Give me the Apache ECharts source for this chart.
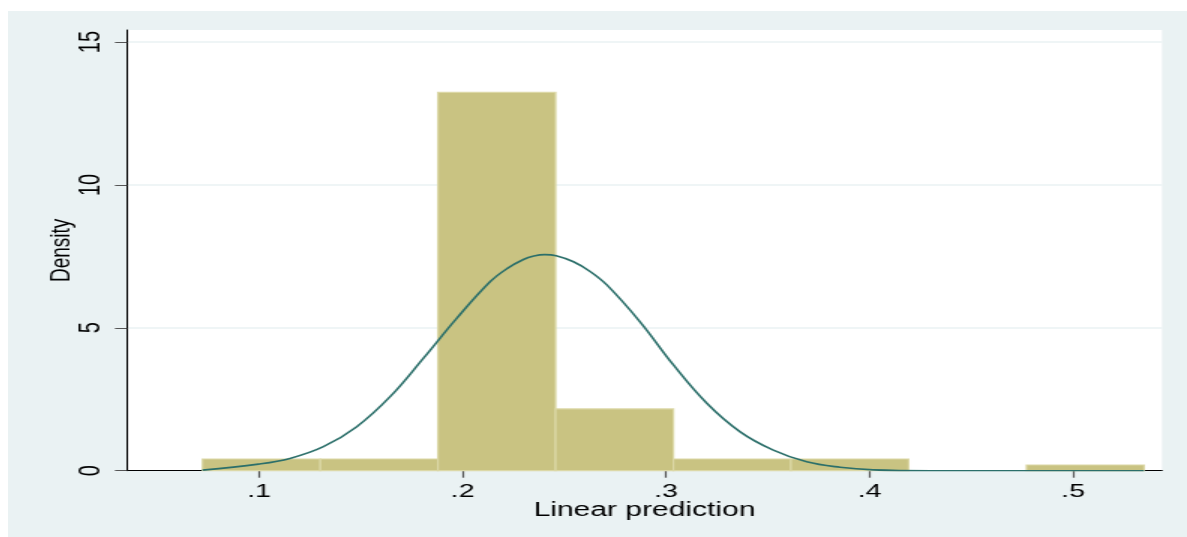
<!DOCTYPE html>
<html>
<head>
<meta charset="utf-8">
<script src="https://cdn.jsdelivr.net/npm/echarts@6/dist/echarts.min.js"></script>
<style>
  html, body { margin: 0; padding: 0; background: #ffffff; width: 1187px; height: 537px; overflow: hidden; }
  #c { position: absolute; left: 8px; top: 11px; width: 786px; height: 526px; transform: scaleX(1.5); transform-origin: 0 0; }
</style>
</head>
<body>
<div id="c"></div>
<script>
// Histogram bin edges (Linear prediction) and densities
const binEdges = [0.0722, 0.1301, 0.1879, 0.2457, 0.3036, 0.3614, 0.4192, 0.4771, 0.5349];
const binDensity = [0.41, 0.41, 13.24, 2.16, 0.41, 0.41, 0, 0.20];

// Overlaid normal density curve
const curveX = [0.0722, 0.0997, 0.1152, 0.1316, 0.1480, 0.1644, 0.1807, 0.1971, 0.2135, 0.2220, 0.2299, 0.2350, 0.2404,
                0.2460, 0.2545, 0.2625, 0.2709, 0.2872, 0.3036, 0.3200, 0.3364, 0.3527, 0.3691, 0.3855, 0.4019, 0.4300, 0.4700, 0.5349];
const curveY = [0.02, 0.23, 0.43, 0.84, 1.54, 2.59, 3.93, 5.33, 6.61, 7.08, 7.39, 7.51, 7.56,
                7.52, 7.31, 6.98, 6.50, 5.21, 3.70, 2.36, 1.36, 0.72, 0.31, 0.12, 0.03, 0.00, 0.00, 0.00];

// Axis ticks
const xTicks = [0.1, 0.2, 0.3, 0.4, 0.5];
const yTicks = [0, 5, 10, 15];

const barData = [];
for (let i = 0; i < binDensity.length; i++) {
  if (binDensity[i] > 0) barData.push([binEdges[i], binEdges[i + 1], binDensity[i]]);
}
const curveData = curveX.map((x, i) => [x, curveY[i]]);

const chart = echarts.init(document.getElementById('c'));
const font = '"Liberation Sans", Arial, sans-serif';
chart.setOption({
  backgroundColor: '#eaf2f3',
  animation: false,
  grid: { left: 79.33, right: 16.67, top: 19, bottom: 66.3, show: true, backgroundColor: '#ffffff', borderWidth: 0 },
  xAxis: {
    type: 'value', min: 0.0351, max: 0.5437,
    name: 'Linear prediction', nameLocation: 'middle', nameGap: 30, nameMoveOverlap: false,
    nameTextStyle: { fontFamily: font, fontSize: 20, color: '#000' },
    axisLine: { show: true, onZero: false, lineStyle: { color: '#000', width: 1 } },
    axisTick: { show: true, length: 7, customValues: xTicks, lineStyle: { color: '#555', width: 1.2 } },
    axisLabel: { customValues: xTicks, margin: 12, fontFamily: font, fontSize: 19, color: '#000',
      formatter: v => v.toFixed(1).replace(/^0/, '') },
    splitLine: { show: false }
  },
  yAxis: {
    type: 'value', min: 0, max: 15.42,
    name: 'Density', nameLocation: 'middle', nameGap: 34, nameRotate: 90, nameMoveOverlap: false,
    nameTextStyle: { fontFamily: font, fontSize: 19, color: '#000' },
    axisLine: { show: true, lineStyle: { color: '#000', width: 1 } },
    axisTick: { show: true, length: 8, customValues: yTicks, lineStyle: { color: '#555', width: 1 } },
    axisLabel: { customValues: yTicks, rotate: 90, margin: 14, fontFamily: font, fontSize: 20, color: '#000' },
    splitLine: { show: true, lineStyle: { color: '#eaf2f3', width: 1.5 } }
  },
  series: [
    {
      type: 'custom',
      data: barData,
      encode: { x: [0, 1], y: 2 },
      renderItem: function (params, api) {
        const p0 = api.coord([api.value(0), 0]);
        const p1 = api.coord([api.value(1), api.value(2)]);
        return {
          type: 'rect',
          shape: { x: p0[0], y: p1[1], width: p1[0] - p0[0], height: p0[1] - p1[1] },
          style: { fill: '#c9c382', stroke: '#dcd8a6', lineWidth: 1.2 }
        };
      },
      z: 2
    },
    {
      type: 'line',
      data: curveData,
      smooth: 0.4,
      showSymbol: false,
      lineStyle: { color: '#2b6f6a', width: 1.6 },
      z: 3
    }
  ]
});
</script>
</body>
</html>
